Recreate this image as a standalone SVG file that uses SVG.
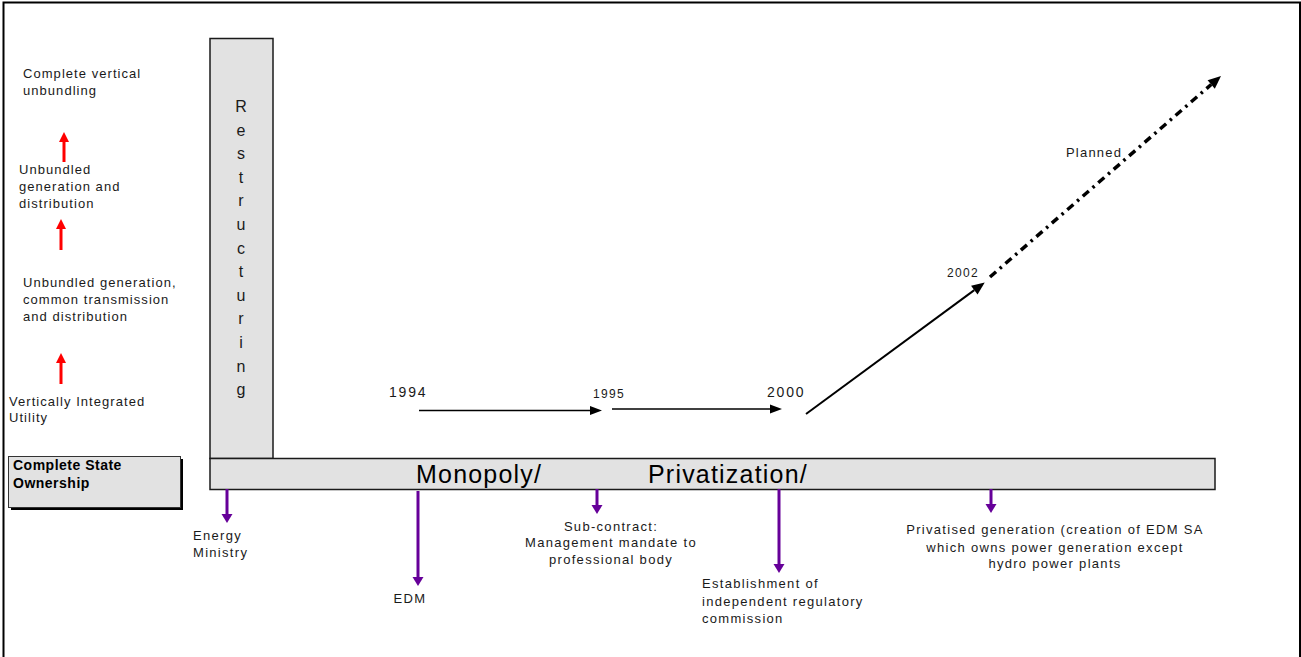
<svg xmlns="http://www.w3.org/2000/svg" width="1301" height="657" viewBox="0 0 1301 657">
<style>
text{font-family:"Liberation Sans",Arial,sans-serif;fill:#1a1a1a}
.l{font-size:13px;letter-spacing:1.05px}
.p{font-size:13px;letter-spacing:1.3px}
.b{font-size:14px;font-weight:bold;letter-spacing:0.5px;fill:#000}
.big{font-size:25px;letter-spacing:1.2px;fill:#000}
.y14{font-size:14px;letter-spacing:1.8px}
.y12{font-size:12px;letter-spacing:1.3px}
.box{fill:#e2e2e2;stroke:#1a1a1a;stroke-width:1.5}
.red{stroke:#ff0000;stroke-width:3;fill:none}
.pur{stroke:#660099;stroke-width:3;fill:none}
.blk{stroke:#000;fill:none}
</style>
<defs>
<marker id="ar" markerUnits="userSpaceOnUse" markerWidth="10" markerHeight="10" refX="0" refY="5" orient="auto" overflow="visible"><path d="M0,0 L10,5 L0,10 z" fill="#ff0000"/></marker>
<marker id="ap" markerUnits="userSpaceOnUse" markerWidth="9" markerHeight="11" refX="0" refY="5.5" orient="auto" overflow="visible"><path d="M0,0 L9,5.5 L0,11 z" fill="#660099"/></marker>
<marker id="ab" markerUnits="userSpaceOnUse" markerWidth="12" markerHeight="9" refX="0" refY="4.5" orient="auto" overflow="visible"><path d="M0,0 L12,4.5 L0,9 z" fill="#000"/></marker>
<marker id="ab2" markerUnits="userSpaceOnUse" markerWidth="13" markerHeight="11" refX="0" refY="5.5" orient="auto" overflow="visible"><path d="M0,0 L13,5.5 L0,11 z" fill="#000"/></marker>
</defs>
<rect x="3.5" y="2.5" width="1296.5" height="700" fill="#fff" stroke="#000" stroke-width="2"/>

<g id="levels">
<text class="l" x="23" y="78">Complete vertical</text>
<text class="l" x="23" y="95">unbundling</text>
<text class="l" x="19" y="174">Unbundled</text>
<text class="l" x="19" y="191">generation and</text>
<text class="l" x="19" y="208">distribution</text>
<text class="l" x="23" y="287">Unbundled generation,</text>
<text class="l" x="23" y="304">common transmission</text>
<text class="l" x="23" y="321">and distribution</text>
<text class="l" x="9" y="406">Vertically Integrated</text>
<text class="l" x="9" y="422">Utility</text>
</g>

<g id="state-ownership">
<rect x="11" y="459" width="172" height="51" fill="#000"/>
<rect x="8.5" y="456.5" width="172" height="51" fill="#e2e2e2" stroke="#333" stroke-width="1"/>
<text class="b" x="13" y="470">Complete State</text>
<text class="b" x="13" y="488">Ownership</text>
</g>

<g id="restructuring">
<rect class="box" x="210" y="38.5" width="63" height="420"/>
<text style="font-size:16px" text-anchor="middle">
<tspan x="241" y="112">R</tspan><tspan x="241" dy="23.6">e</tspan><tspan x="241" dy="23.6">s</tspan><tspan x="241" dy="23.6">t</tspan><tspan x="241" dy="23.6">r</tspan><tspan x="241" dy="23.6">u</tspan><tspan x="241" dy="23.6">c</tspan><tspan x="241" dy="23.6">t</tspan><tspan x="241" dy="23.6">u</tspan><tspan x="241" dy="23.6">r</tspan><tspan x="241" dy="23.6">i</tspan><tspan x="241" dy="23.6">n</tspan><tspan x="241" dy="23.6">g</tspan>
</text>
</g>

<g id="bar">
<rect class="box" x="210" y="458.5" width="1005" height="31"/>
<text class="big" x="416" y="483">Monopoly/</text>
<text class="big" x="648" y="483">Privatization/</text>
</g>

<g id="connectors">
<line class="red" x1="64" y1="162" x2="64" y2="142" marker-end="url(#ar)"/>
<line class="red" x1="61" y1="250" x2="61" y2="229" marker-end="url(#ar)"/>
<line class="red" x1="61" y1="384" x2="61" y2="363" marker-end="url(#ar)"/>

<line class="pur" x1="227" y1="489" x2="227" y2="514" marker-end="url(#ap)"/>
<line class="pur" x1="418" y1="491" x2="418" y2="577" marker-end="url(#ap)"/>
<line class="pur" x1="597" y1="489" x2="597" y2="505" marker-end="url(#ap)"/>
<line class="pur" x1="779" y1="489" x2="779" y2="564" marker-end="url(#ap)"/>
<line class="pur" x1="991" y1="489" x2="991" y2="504" marker-end="url(#ap)"/>

<line class="blk" stroke-width="1.5" x1="419" y1="410.5" x2="590" y2="410.5" marker-end="url(#ab)"/>
<line class="blk" stroke-width="1.5" x1="612" y1="409" x2="770" y2="409" marker-end="url(#ab)"/>
<line class="blk" stroke-width="2" x1="806" y1="414" x2="974.3" y2="290.1" marker-end="url(#ab2)"/>
<line class="blk" stroke-width="3.5" stroke-dasharray="8 5 2.5 5" x1="990" y1="277" x2="1211.2" y2="84.5" marker-end="url(#ab2)"/>
</g>

<g id="years">
<text class="y14" x="389" y="397">1994</text>
<text class="y12" x="593" y="398">1995</text>
<text class="y14" x="767" y="397">2000</text>
<text class="y12" x="947" y="277">2002</text>
<text class="l" style="letter-spacing:1.2px" x="1066" y="157">Planned</text>
</g>

<g id="events">
<text class="p" x="193" y="540">Energy</text>
<text class="p" x="193" y="557">Ministry</text>
<text class="p" x="410" y="603" text-anchor="middle">EDM</text>
<text class="p" x="611" y="531" text-anchor="middle">Sub-contract:</text>
<text class="p" x="611" y="547" text-anchor="middle">Management mandate to</text>
<text class="p" x="611" y="564" text-anchor="middle">professional body</text>
<text class="p" x="702" y="588">Establishment of</text>
<text class="p" x="702" y="606">independent regulatory</text>
<text class="p" x="702" y="623">commission</text>
<text class="p" x="1055" y="534" text-anchor="middle">Privatised generation (creation of EDM SA</text>
<text class="p" x="1055" y="552" text-anchor="middle">which owns power generation except</text>
<text class="p" x="1055" y="568" text-anchor="middle">hydro power plants</text>
</g>
</svg>
